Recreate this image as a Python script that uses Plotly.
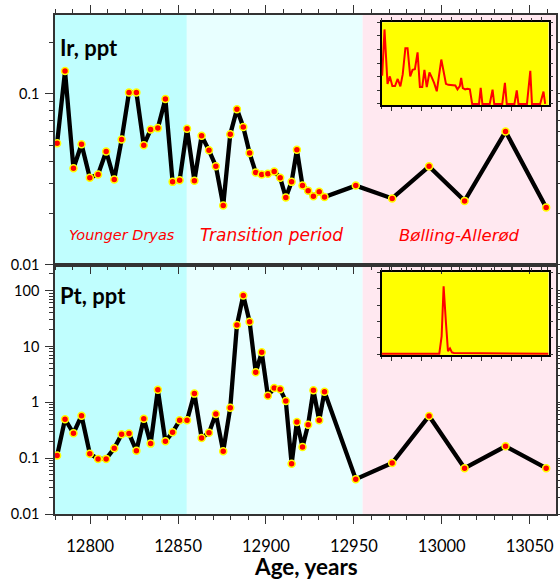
import math
import plotly.graph_objects as go

# ---------------- data ----------------
age = [12781.2, 12785.7, 12790.5, 12795.1, 12799.8, 12804.5, 12809.1, 12813.7, 12817.9, 12822.1,
       12826.3, 12830.5, 12834.4, 12838.5, 12842.8, 12846.9, 12850.9, 12855.1, 12859.3, 12863.4,
       12867.6, 12871.5, 12875.7, 12879.7, 12883.5, 12887.1, 12890.7, 12894.2, 12897.6, 12901.1,
       12904.7, 12908.1, 12911.3, 12914.6, 12917.6, 12920.8, 12924.0, 12927.0, 12930.3, 12933.3,
       12951.1, 12971.8, 12992.8, 13013.0, 13036.3, 13059.4]

ir_ppt = [0.0514, 0.136, 0.0366, 0.0507, 0.0322, 0.0337, 0.046, 0.0315, 0.054, 0.102,
          0.102, 0.050, 0.0618, 0.063, 0.0934, 0.0305, 0.0312, 0.0624, 0.031, 0.0568,
          0.0467, 0.0377, 0.0222, 0.058, 0.0812, 0.064, 0.045, 0.0346, 0.0337, 0.0340,
          0.0351, 0.0322, 0.0247, 0.0305, 0.047, 0.029, 0.0271, 0.0251, 0.0267, 0.0249,
          0.029, 0.0244, 0.0376, 0.0236, 0.0602, 0.0216]

pt_ppt = [0.111, 0.497, 0.279, 0.576, 0.12, 0.097, 0.097, 0.15, 0.267, 0.275,
          0.136, 0.509, 0.182, 1.68, 0.2, 0.29, 0.476, 0.476, 1.43, 0.23,
          0.286, 0.618, 0.133, 0.80, 24.1, 82.0, 27.7, 3.44, 7.84, 1.31,
          1.80, 1.71, 1.05, 0.079, 0.444, 0.159, 0.398, 1.64, 0.476, 1.55,
          0.042, 0.082, 0.569, 0.066, 0.163, 0.066]

# inset records (arbitrary depth units 0-100, linear concentration)
inset_ir_depth = [0.4, 1.8, 3.6, 5.0, 6.5, 8.1, 9.7, 11.3, 12.7, 14.3, 15.6, 17.2, 18.6, 20.0, 21.6,
                  23.0, 24.4, 25.7, 27.1, 28.7, 30.1, 31.5, 33.1, 34.5, 35.8, 37.2, 38.6, 40.0, 41.4,
                  42.8, 44.2, 45.5, 46.9, 47.7, 48.7, 50.1, 51.5, 52.9, 54.3, 55.6, 57.0, 58.4, 59.4,
                  60.4, 62.4, 64.8, 66.5, 67.5, 70.3, 72.3, 73.9, 75.0, 77.2, 79.6, 81.0, 82.0, 84.2,
                  87.1, 89.1, 90.1, 92.1, 95.0, 97.0, 98.0]
inset_ir_val = [103.6, 273.8, 73.8, 101.2, 65.5, 65.5, 91.7, 64.3, 108.3, 204.8, 204.8, 101.2, 125.0,
                127.4, 189.3, 61.9, 61.9, 125.0, 61.9, 115.5, 97.6, 77.4, 46.4, 109.5, 163.1, 119.0,
                73.8, 70.2, 70.2, 70.2, 67.9, 53.6, 65.5, 95.2, 58.3, 53.6, 56.0, 53.6, 0, 0, 0, 0,
                59.5, 0, 0, 0, 52.4, 0, 0, 0, 77.4, 0, 0, 0, 50.0, 0, 0, 0, 121.4, 0, 0, 0, 45.2, 0]

inset_pt_depth = [0, 5, 11, 17, 20, 21, 25, 28, 31, 34.6, 36, 37.2, 38.6, 39.8, 41, 42.2, 43.4, 46,
                  49, 51.4, 53, 57, 65, 73, 74.6, 77, 85, 93, 100]
inset_pt_val = [2, 2, 2, 2, 4, 2, 2, 3, 2, 2, 55, 207, 96, 10, 18, 6, 4, 4, 2, 4, 3, 2, 2, 2, 3, 2, 2, 2, 2]

period_names = ["Younger Dryas", "Transition period", "Bølling-Allerød"]
period_edges = [12780, 12855, 12955, 13065]
period_label_x = [12818, 12903, 13010]

x_ticks = [12800, 12850, 12900, 12950, 13000, 13050]
x_ticktext = ["12800", "12850", "12900", "12950", "13000", "13050"]
ir_ticks = [0.01, 0.1]
ir_ticktext = ["0.01", "0.1"]
pt_ticks = [0.01, 0.1, 1, 10, 100]
pt_ticktext = ["0.01", "0.1", "1", "10", "100"]

# ---------------- styling ----------------
period_colors = ["#C0FEFE", "#E8FFFF", "#FFE8F0"]
period_label_sizes = [14.5, 17, 16.5]
AX = "#333333"
W, H = 560, 582
ML, MR, MT, MB = 55, 4, 15, 68
pw, ph = W - ML - MR, H - MT - MB


def px_x(p):
    return (p - ML) / pw


def px_y(p):
    return (H - MB - p) / ph


fig = go.Figure()
mk = dict(color="#FF0000", size=7, line=dict(color="#FFFF00", width=1.5))
fig.add_trace(go.Scatter(x=age, y=ir_ppt, mode="lines+markers", line=dict(color="black", width=4.3),
                         marker=mk, xaxis="x", yaxis="y", showlegend=False))
fig.add_trace(go.Scatter(x=age, y=pt_ppt, mode="lines+markers", line=dict(color="black", width=4.3),
                         marker=mk, xaxis="x2", yaxis="y2", showlegend=False))
fig.add_trace(go.Scatter(x=inset_ir_depth, y=inset_ir_val, mode="lines", line=dict(color="#FF0000", width=2),
                         xaxis="x3", yaxis="y3", showlegend=False))
fig.add_trace(go.Scatter(x=inset_pt_depth, y=inset_pt_val, mode="lines", line=dict(color="#FF0000", width=2),
                         xaxis="x4", yaxis="y4", showlegend=False))

xr = [period_edges[0], period_edges[-1]]
common = dict(showline=True, linecolor=AX, linewidth=1.5, showgrid=False, zeroline=False,
              ticks="outside", tickcolor=AX, tickwidth=1.2, ticklen=8)
xminor = dict(dtick=10, tick0=12800, ticks="outside", ticklen=4, tickcolor=AX, tickwidth=1.2)


def logminor(lo, hi):
    vals = []
    e = lo
    while e < hi:
        for d in range(2, 10):
            v = d * 10 ** e
            if math.log10(v) < hi - 0.01:
                vals.append(v)
        e += 1
    return vals


ir_top = math.log10(0.29)
pt_top = 2.467

inset_x_dom = [px_x(381.5), px_x(548.5)]
inset1_y_dom = [px_y(105), px_y(22.3)]
inset2_y_dom = [px_y(355), px_y(272.3)]

inset_common = dict(showline=True, linecolor="black", linewidth=1.5, showgrid=False, zeroline=False,
                    ticks="outside", tickcolor="#333", tickwidth=1, ticklen=3, mirror="ticks",
                    showticklabels=False, layer="below traces")

fig.update_layout(
    width=W, height=H, margin=dict(l=ML, r=MR, t=MT, b=MB, autoexpand=False),
    paper_bgcolor="white", plot_bgcolor="rgba(0,0,0,0)",
    font=dict(family="Lato", color="black"),
    xaxis=dict(common, domain=[0, 1], anchor="y", range=xr, tickvals=x_ticks, showticklabels=False,
               mirror="ticks", minor=xminor),
    xaxis2=dict(common, domain=[0, 1], anchor="y2", range=xr, tickvals=x_ticks, ticktext=x_ticktext,
                mirror=True, minor=xminor, tickfont=dict(family="Lato", size=16.5, color="black"),
                ticklabelstandoff=8),
    yaxis=dict(common, domain=[0.5, 1], anchor="x", type="log", range=[-2, ir_top],
               tickvals=ir_ticks, ticktext=ir_ticktext, mirror="ticks",
               tickfont=dict(family="Lato", size=14.5, color="black"), ticklabelstandoff=3,
               minor=dict(tickvals=logminor(-2, ir_top), ticks="outside", ticklen=4, tickcolor=AX, tickwidth=1.2)),
    yaxis2=dict(common, domain=[0, 0.5], anchor="x2", type="log", range=[-2, pt_top],
                tickvals=pt_ticks, ticktext=pt_ticktext, mirror="ticks",
                tickfont=dict(family="Lato", size=14.5, color="black"), ticklabelstandoff=3,
                minor=dict(tickvals=logminor(-2, pt_top), ticks="outside", ticklen=4, tickcolor=AX, tickwidth=1.2)),
    xaxis3=dict(inset_common, domain=inset_x_dom, anchor="y3", range=[0, 100], tick0=6, dtick=18, ticklen=4,
                minor=dict(dtick=6, tick0=0, ticks="outside", ticklen=2.5, tickcolor="#333", tickwidth=1)),
    yaxis3=dict(inset_common, domain=inset1_y_dom, anchor="x3", range=[-4, 300], dtick=50),
    xaxis4=dict(inset_common, domain=inset_x_dom, anchor="y4", range=[0, 100], tick0=6, dtick=18, ticklen=4,
                minor=dict(dtick=6, tick0=0, ticks="outside", ticklen=2.5, tickcolor="#333", tickwidth=1)),
    yaxis4=dict(inset_common, domain=inset2_y_dom, anchor="x4", range=[-2, 250], dtick=50),
)

shapes = []
for i in range(3):
    shapes.append(dict(type="rect", xref="x", yref="paper", x0=period_edges[i], x1=period_edges[i + 1],
                       y0=0, y1=1, fillcolor=period_colors[i], line=dict(width=0), layer="below"))
for ydom in (inset1_y_dom, inset2_y_dom):
    shapes.append(dict(type="rect", xref="paper", yref="paper", x0=inset_x_dom[0], x1=inset_x_dom[1],
                       y0=ydom[0], y1=ydom[1], fillcolor="#FFFF00", line=dict(width=0), layer="below"))
fig.update_layout(shapes=shapes)

ann = []
for i, name in enumerate(period_names):
    ann.append(dict(x=period_label_x[i], xref="x", y=px_y(235), yref="paper", text="<i>%s</i>" % name,
                    showarrow=False, xanchor="center", yanchor="middle",
                    font=dict(family="DejaVu Sans", size=period_label_sizes[i], color="#FF0000")))
for txt, yy in (("Ir, ppt", 48), ("Pt, ppt", 295)):
    ann.append(dict(x=px_x(58), xref="paper", y=px_y(yy), yref="paper", text="<b>%s</b>" % txt,
                    showarrow=False, xanchor="left", yanchor="middle",
                    font=dict(family="Lato", size=22, color="black")))
ann.append(dict(x=px_x(306), xref="paper", y=0, yref="paper", yshift=(H - MB) - 551,
                text="<b>Age, years</b>", showarrow=False, xanchor="center", yanchor="top",
                font=dict(family="Lato", size=22.5, color="black")))
fig.update_layout(annotations=ann)

fig.write_html("out.html", config={"displayModeBar": False},
               post_script="document.body.style.margin='0';document.body.style.padding='0';")
